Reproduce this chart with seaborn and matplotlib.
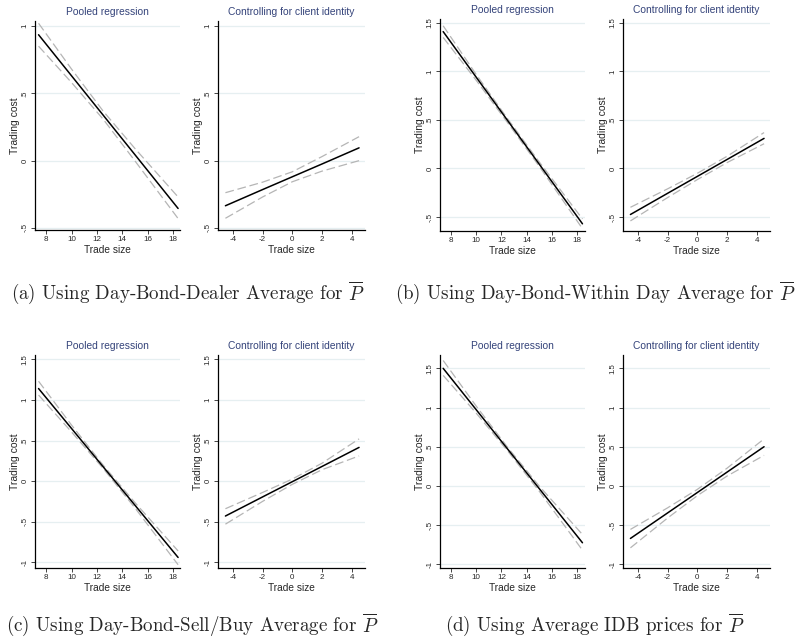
import matplotlib
matplotlib.use("Agg")
import matplotlib.pyplot as plt
import seaborn as sns
import pandas as pd

pooled_x = [7.4, 10, 12.5, 15, 18.4]
client_x = [-4.5, -2, 0, 2, 4.5]

# (a) Day-Bond-Dealer average
a_pooled_fit = [0.935, 0.63, 0.337, 0.044, -0.355]
a_pooled_hi = [1.02, 0.68, 0.367, 0.09, -0.27]
a_pooled_lo = [0.85, 0.58, 0.307, -0.002, -0.43]
a_client_fit = [-0.335, -0.215, -0.12, -0.025, 0.095]
a_client_hi = [-0.238, -0.16, -0.083, 0.03, 0.178]
a_client_lo = [-0.428, -0.27, -0.157, -0.078, 0.0]

# (b) Day-Bond-Within Day average
b_pooled_fit = [1.41, 0.942, 0.492, 0.042, -0.57]
b_pooled_hi = [1.47, 0.97, 0.51, 0.065, -0.52]
b_pooled_lo = [1.35, 0.91, 0.47, 0.02, -0.62]
b_client_fit = [-0.474, -0.256, -0.082, 0.092, 0.31]
b_client_hi = [-0.40, -0.21, -0.05, 0.125, 0.37]
b_client_lo = [-0.54, -0.30, -0.115, 0.06, 0.255]

# (c) Day-Bond-Sell/Buy average
c_pooled_fit = [1.14, 0.648, 0.175, -0.297, -0.94]
c_pooled_hi = [1.23, 0.69, 0.195, -0.265, -0.86]
c_pooled_lo = [1.06, 0.605, 0.155, -0.33, -1.03]
c_client_fit = [-0.43, -0.195, -0.0075, 0.18, 0.415]
c_client_hi = [-0.34, -0.14, 0.025, 0.22, 0.52]
c_client_lo = [-0.53, -0.25, -0.04, 0.14, 0.31]

# (d) Average IDB prices
d_pooled_fit = [1.5, 0.974, 0.468, -0.037, -0.725]
d_pooled_hi = [1.6, 1.02, 0.49, -0.005, -0.62]
d_pooled_lo = [1.41, 0.93, 0.445, -0.07, -0.82]
d_client_fit = [-0.67, -0.345, -0.085, 0.175, 0.5]
d_client_hi = [-0.555, -0.28, -0.045, 0.225, 0.60]
d_client_lo = [-0.79, -0.41, -0.125, 0.125, 0.39]

pooled_xticks = [8, 10, 12, 14, 16, 18]
client_xticks = [-4, -2, 0, 2, 4]
yticks_a = [-0.5, 0, 0.5, 1]
yticks_b = [-0.5, 0, 0.5, 1, 1.5]
yticks_cd = [-1, -0.5, 0, 0.5, 1, 1.5]

captions = [
    r"(a) Using Day-Bond-Dealer Average for $\overline{P}$",
    r"(b) Using Day-Bond-Within Day Average for $\overline{P}$",
    r"(c) Using Day-Bond-Sell/Buy Average for $\overline{P}$",
    r"(d) Using Average IDB prices for $\overline{P}$",
]

sns.set_style("ticks")
plt.rcParams["font.family"] = ["Liberation Sans", "DejaVu Sans"]
plt.rcParams["mathtext.fontset"] = "cm"

W, H = 800, 641
fig = plt.figure(figsize=(8, 6.41), dpi=100)


def stata_lab(v):
    s = "%g" % v
    if s.startswith("0."):
        s = s[1:]
    elif s.startswith("-0."):
        s = "-" + s[2:]
    return s


def panel(px, title, xs, fit, hi, lo, xticks, yticks, xlim, ylim):
    l, t, r, b = px
    ax = fig.add_axes([l / W, 1 - b / H, (r - l) / W, (b - t) / H])
    for yv in yticks:
        ax.axhline(yv, color="#e6eff1", lw=0.9, zorder=0)
    df = pd.DataFrame({"x": xs, "fit": fit, "hi": hi, "lo": lo})
    for col in ["hi", "lo"]:
        sns.lineplot(data=df, x="x", y=col, ax=ax, color="#b5b5b5", lw=0.9,
                     linestyle=(0, (7, 3)))
    sns.lineplot(data=df, x="x", y="fit", ax=ax, color="black", lw=1.1)
    ax.set_xlim(xlim)
    ax.set_ylim(ylim)
    ax.set_xticks(xticks)
    ax.set_xticklabels([stata_lab(v) for v in xticks], fontsize=5.8)
    ax.set_yticks(yticks)
    ax.set_yticklabels([stata_lab(v) for v in yticks], fontsize=5.6,
                       rotation=90, va="center")
    ax.tick_params(length=3, width=0.6, pad=1.5)
    ax.set_xlabel("Trade size", fontsize=7.3, labelpad=1)
    ax.set_ylabel("Trading cost", fontsize=7.5, labelpad=1.5)
    ax.set_title(title, fontsize=7.4, color="#34437a", pad=4)
    sns.despine(ax=ax)
    for s in ["left", "bottom"]:
        ax.spines[s].set_linewidth(0.9)
        ax.spines[s].set_color("black")
    return ax


pooled_lim = (7.12, 18.55)
client_lim = (-5.0, 4.9)

panel((35, 21, 180, 230), "Pooled regression", pooled_x,
      a_pooled_fit, a_pooled_hi, a_pooled_lo,
      pooled_xticks, yticks_a, pooled_lim, (-0.515, 1.037))
panel((218, 21, 365, 230), "Controlling for client identity", client_x,
      a_client_fit, a_client_hi, a_client_lo,
      client_xticks, yticks_a, client_lim, (-0.515, 1.037))
panel((440, 19, 585, 231), "Pooled regression", pooled_x,
      b_pooled_fit, b_pooled_hi, b_pooled_lo,
      pooled_xticks, yticks_b, (7.15, 18.6), (-0.644, 1.54))
panel((623, 19, 770, 231), "Controlling for client identity", client_x,
      b_client_fit, b_client_hi, b_client_lo,
      client_xticks, yticks_b, client_lim, (-0.644, 1.54))
panel((35, 355, 180, 568), "Pooled regression", pooled_x,
      c_pooled_fit, c_pooled_hi, c_pooled_lo,
      pooled_xticks, yticks_cd, pooled_lim, (-1.07, 1.553))
panel((218, 355, 365, 568), "Controlling for client identity", client_x,
      c_client_fit, c_client_hi, c_client_lo,
      client_xticks, yticks_cd, client_lim, (-1.07, 1.553))
panel((440, 355, 585, 568), "Pooled regression", pooled_x,
      d_pooled_fit, d_pooled_hi, d_pooled_lo,
      pooled_xticks, yticks_cd, (7.15, 18.6), (-1.047, 1.67))
panel((623, 355, 770, 568), "Controlling for client identity", client_x,
      d_client_fit, d_client_hi, d_client_lo,
      client_xticks, yticks_cd, client_lim, (-1.047, 1.67))

cap_pos = [(188, 293), (595, 293), (192, 625), (595, 625)]
for (cx, cy), txt in zip(cap_pos, captions):
    fig.text(cx / W, 1 - cy / H, txt, ha="center", va="center",
             fontsize=13.7, family="cmr10")

fig.savefig("out.png", dpi=100)
